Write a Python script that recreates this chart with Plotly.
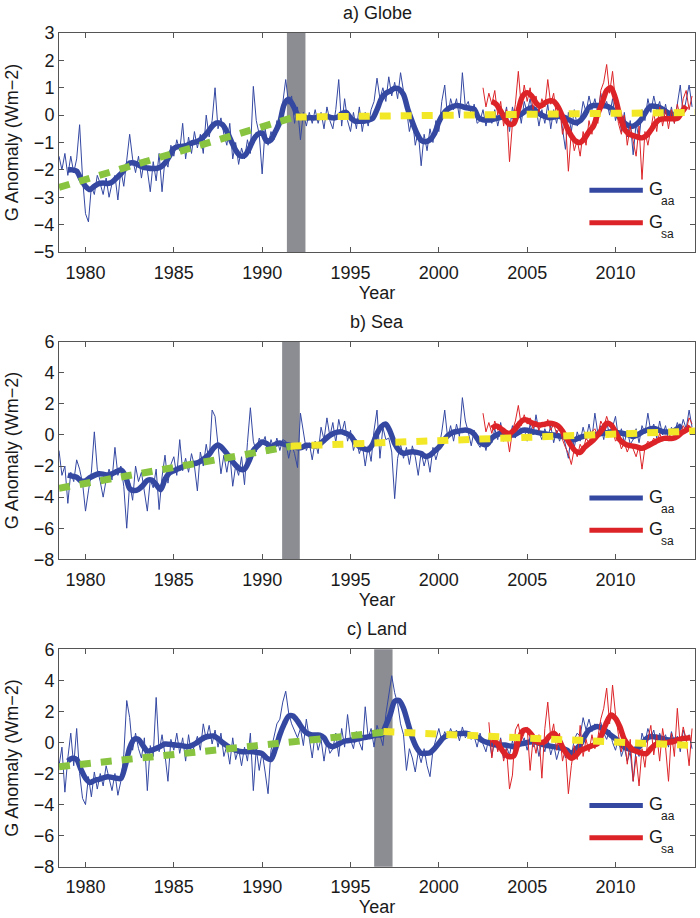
import plotly.graph_objects as go

# ---------------- data ----------------
MONTHLY_START = 1978.5      # bi-monthly samples of the thin G_aa lines
MONTHLY_STEP = 1.0 / 6.0
SMOOTH_START = 1979.0       # quarterly samples of the smoothed G_aa lines
SMOOTH_STEP = 0.25
SA_START_AB = 2002.5        # thin G_sa lines start
SA_START_C = 2002.8333
SA_SMOOTH_START = 2003.0

YEAR_TICKS = [1980, 1985, 1990, 1995, 2000, 2005, 2010]
YTICKS_GLOBE = [-5, -4, -3, -2, -1, 0, 1, 2, 3]
YTICKS_SEA_LAND = [-8, -6, -4, -2, 0, 2, 4, 6]

# a) Globe
GLOBE_AA = [
    -1.5, -2.0, -1.4,
    -2.2, -1.5, -2.1, -1.6, -0.35, -2.3,
    -3.6, -3.9, -2.6, -2.9, -2.2, -2.5,
    -2.9, -2.3, -3.0, -2.5, -2.2, -3.1,
    -2.0, -2.6, -1.7, -0.7, -1.6, -2.1,
    -1.5, -2.3, -1.6, -2.0, -2.8, -1.7,
    -2.4, -1.4, -2.8, -1.6, -1.9, -1.1,
    -1.5, -0.9, -1.3, -0.3, -1.6, -0.8,
    -1.4, -0.6, -1.2, -0.7, -1.4, 0.0,
    -0.8, -0.2, 1.0, -0.5, -0.1, -0.7,
    -1.1, -0.3, -1.6, -1.0, -1.8, -1.2,
    -1.6, -0.9, -1.4, 1.05, -0.2, -0.7,
    -2.15, -0.5, -1.1, -0.6, -0.9, -0.2,
    -0.4, 0.5, 1.3, 0.4, 0.7, -0.3,
    0.3, -0.9, 0.1, -0.4, 0.1, -0.3,
    0.2, -0.3, 0.1, -0.5, 0.3, -0.2,
    -0.5, 0.2, 1.3, -0.4, 0.6, -0.2,
    -0.6, 0.1, -0.5, 0.3, -0.6, 0.1,
    -0.4, 0.2, 0.5, 1.35, 0.6, 1.0,
    0.5, 1.4, 0.7, 1.2, 0.6, 1.55,
    0.9, 0.2, -0.6, -0.1, -1.1, -0.6,
    -1.85, -0.7, -1.3, -0.5, -1.0, -0.2,
    -0.6, 0.5, 1.1, -0.1, 0.6, 0.2,
    0.6, -0.1, 1.55, 0.3, 0.5, 0.0,
    0.4, -0.3, -0.2, 0.2, -0.4, 0.1,
    -0.3, 0.2, -0.4, 0.1, -0.2, 0.3,
    -0.6, 0.3, -0.2, 0.4, -0.3, 0.5,
    0.1, 0.6, 0.0, 0.3, -0.4, 0.2,
    -0.3, 0.4, -0.5, 0.2, -0.3, 0.3,
    -0.5, -1.25, 0.1, -0.6, 0.2, -0.4,
    -0.2, 0.5, 0.1, 0.7, 0.2, 0.6,
    0.1, 0.8, 0.3, 0.5, 0.0, 0.6,
    -0.2, 0.3, -0.6, 0.1, -0.8, -0.2,
    -1.45, -0.3, -0.9, 0.2, -0.2, 0.6,
    0.1, 0.7, 0.2, 0.5, -0.1, 0.4,
    -0.2, 0.3, -0.3, 0.5, 1.1, 0.0,
    0.6, 1.1, 0.3,
]
GLOBE_SA = [
    1.0, 0.3, 0.8,
    0.4, 0.9, 0.0, 0.5, -0.4, 0.2,
    -1.7, -0.3, 0.4, 1.6, 0.3, 1.1,
    0.5, 1.0, 0.2, 0.7, 0.1, 0.6,
    0.3, 1.3, 0.4, 0.8, -0.1, 0.3,
    -0.7, -0.2, -2.05, -0.6, -1.3, -0.9,
    -1.5, -0.6, -1.1, -0.2, -0.7, 0.1,
    -0.3, 0.9, 1.2, 1.85, 0.8, 1.6,
    0.5, -0.3, -0.7, 0.0, -1.1, -0.4,
    -0.9, -1.5, -0.4, -2.35, -0.6, -1.1,
    -0.5, 0.1, -0.6, 0.3, -0.4, 0.2,
    -0.5, 0.2, -0.3, 0.4, -0.1, 0.6,
    0.9, 0.2, 0.7,
]
GLOBE_AA_SMOOTH = [
    -2.0, -2.0, -2.05, -2.35,
    -2.6, -2.72, -2.6, -2.5,
    -2.48, -2.5, -2.45, -2.3,
    -2.15, -1.95, -1.75, -1.75,
    -1.82, -1.9, -1.93, -1.95,
    -1.95, -1.9, -1.75, -1.5,
    -1.22, -1.15, -1.14, -1.1,
    -1.02, -0.98, -0.9, -0.75,
    -0.55, -0.35, -0.28, -0.35,
    -0.6, -0.95, -1.28, -1.48,
    -1.48, -1.25, -0.9, -0.7,
    -0.65, -0.95, -0.9, -0.6,
    -0.25, 0.4, 0.58, 0.35,
    0.02, -0.08, -0.1, -0.1,
    -0.1, -0.08, -0.05, -0.06,
    -0.1, -0.08, 0.05, 0.1,
    -0.1, -0.22, -0.22, -0.22,
    -0.18, -0.12, 0.2, 0.6,
    0.8, 0.88, 0.98, 0.95,
    0.75, 0.2, -0.25, -0.65,
    -0.92, -0.97, -0.9, -0.68,
    -0.25, 0.05, 0.22, 0.3,
    0.35, 0.33, 0.28, 0.25,
    0.22, -0.1, -0.17, -0.18,
    -0.17, -0.12, -0.08, 0.0,
    0.02, -0.04, -0.02, 0.08,
    0.2, 0.27, 0.15, 0.03,
    -0.05, -0.1, -0.07, -0.04,
    -0.07, -0.12, -0.22, -0.28,
    -0.2, 0.0, 0.28, 0.35,
    0.35, 0.34, 0.33, 0.25,
    0.1, -0.1, -0.28, -0.38,
    -0.4, -0.3, -0.12, 0.15,
    0.33, 0.32, 0.28, 0.18,
    0.08, 0.02, 0.08, 0.15,
]
GLOBE_SA_SMOOTH = [
    0.5, 0.4, 0.15, -0.15,
    -0.33, -0.3, 0.2, 0.7,
    0.82, 0.7, 0.45, 0.32,
    0.45, 0.52, 0.5, 0.3,
    -0.05, -0.45, -0.75, -0.95,
    -1.0, -0.85, -0.6, -0.4,
    0.05, 0.45, 0.9, 1.0,
    0.6, -0.04, -0.5, -0.68,
    -0.75, -0.8, -0.83, -0.75,
    -0.55, -0.3, -0.16, -0.13,
    -0.13, -0.13, -0.12, 0.1,
    0.33,
]
GLOBE_TREND_PRE_X = [1978.5, 1991.9]
GLOBE_TREND_PRE_Y = [-2.64, -0.06]
GLOBE_TREND_POST_X = [1991.9, 2014.5]
GLOBE_TREND_POST_Y = [-0.07, 0.1]
GLOBE_BREAK = [1991.4, 1992.45]

# b) Sea
SEA_AA = [
    -1.0, -2.6, -2.0,
    -4.4, -2.4, -3.0, -1.6, -2.2, -3.1,
    -4.9, -3.6, -2.4, 0.2, -2.2, -3.0,
    -4.0, -2.9, -2.2, -2.9, -0.8, -2.6,
    -2.0, -3.3, -6.0, -3.1, -4.2, -2.0,
    -3.0, -2.4, -3.6, -4.9, -2.9, -3.4,
    -2.2, -4.8, -2.7, -1.3, -3.1, -1.9,
    -1.4, -2.6, -0.3, -2.3, -1.5, -2.4,
    -1.2, -2.0, -3.6, -1.1, -2.0, -0.6,
    -1.7, 1.6, 1.2, -0.7, -2.5, -1.3,
    -2.4, -1.2, -3.3, -2.0, -2.6, -1.4,
    -3.2, -0.5, 1.75, -0.4, -1.1, -0.2,
    -0.6, -0.1, -1.2, -0.3, -0.9, -0.2,
    -1.0, -0.3, -0.4, -1.5, -0.6, -1.2,
    -2.1, 1.4, 0.3, -1.0, -0.5, -1.6,
    -0.4, -1.2, 0.5, -0.3, 1.1, -0.1,
    0.8, -0.5, 1.0, 0.1, 0.9, -0.4,
    0.3, -1.0, -0.3, -1.2, -0.6, -2.0,
    -0.7, -1.7, 0.3, 1.6, -1.5, 0.5,
    -0.3, -0.2, -1.1, -4.1, -1.5, -0.6,
    -1.5, -0.8, -1.9, -0.7, -1.4, -2.6,
    -1.1, -2.0, -1.3, -2.4, -0.8, -1.6,
    -0.9, 0.2, 1.6, -0.2, 0.6, -0.4,
    0.7, -0.1, 2.4, 0.9, 0.2, -0.7,
    0.3, -0.5, -0.8, -0.2, -1.0, -0.1,
    -0.5, 0.4, -0.3, 0.8, -0.4, 0.3,
    -0.3, 0.6, -0.2, 0.9, 0.1, 0.4,
    -0.4, 0.7, 0.0, 1.3, 0.2, -0.3,
    0.4, -0.2, 0.6, -0.5, 0.3, -0.4,
    0.2, -0.6, -1.5, 0.1, -0.8, 0.2,
    -0.4, 0.5, -0.3, 0.7, -0.2, 1.4,
    0.1, 0.6, -0.3, 0.8, 0.0, 0.5,
    1.2, -0.2, 0.4, -0.5, 0.3, -0.6,
    -0.3, 0.4, -0.5, 0.6, 0.1, 1.4,
    0.2, 0.7, -0.2, 0.9, 0.0, 0.6,
    -0.3, 0.5, 0.1, 0.8, 0.2, 1.0,
    0.4, 1.6, 0.5,
]
SEA_SA = [
    1.4, 0.2, 0.8,
    0.1, 0.9, 0.3, 0.6, -0.4, 0.2,
    -1.1, 0.3, 0.9, 1.9, 0.6, 1.3,
    0.7, 1.1, 0.4, 0.9, 0.3, 0.8,
    0.5, 1.0, 0.3, 0.7, 0.1, 0.5,
    -0.3, -0.8, -1.2, -1.9, -0.9, -1.4,
    -0.6, -1.0, -0.2, -0.5, 0.2, 0.4,
    -0.1, 0.9, 0.5, 1.2, 0.6, 0.3,
    -0.4, -0.2, -0.9, -0.5, -1.1, -0.6,
    -0.9, -1.4, -0.7, -2.2, -0.8, -0.4,
    -0.6, -0.2, -0.5, 0.1, -0.4, -0.1,
    -0.3, 0.2, -0.2, 0.4, 0.0, 0.6,
    0.3, 1.1, 0.7,
]
SEA_AA_SMOOTH = [
    -2.58, -2.65, -2.72, -2.95,
    -2.95, -2.75, -2.6, -2.5,
    -2.52, -2.58, -2.5, -2.36,
    -2.25, -2.6, -3.45, -3.58,
    -3.5, -3.25, -2.92, -2.9,
    -3.2, -3.52, -2.85, -2.45,
    -2.3, -2.18, -2.05, -1.93,
    -1.88, -1.82, -1.7, -1.5,
    -1.25, -0.85, -0.65, -0.85,
    -1.2, -1.6, -1.95, -2.2,
    -2.2, -1.7, -1.0, -0.7,
    -0.45, -0.55, -0.75, -0.6,
    -0.52, -0.6, -0.65, -0.72,
    -0.82, -0.8, -0.66, -0.68,
    -0.72, -0.6, -0.35, -0.1,
    0.08, 0.18, 0.2, 0.1,
    -0.05, -0.45, -0.75, -0.88,
    -0.95, -0.6, 0.1, 0.55,
    0.7, 0.2, -0.55, -1.0,
    -1.18, -1.12, -1.08, -1.12,
    -1.2, -1.38, -1.3, -1.05,
    -0.8, -0.4, -0.05, 0.15,
    0.22, 0.28, 0.32, 0.25,
    0.05, -0.35, -0.6, -0.6,
    -0.2, 0.0, 0.1, 0.08,
    0.02, 0.0, 0.15, 0.3,
    0.3, 0.22, 0.18, 0.12,
    0.08, 0.02, 0.0, -0.05,
    -0.1, -0.2, -0.32, -0.28,
    -0.15, -0.08, -0.02, 0.0,
    0.05, 0.1, 0.15, 0.2,
    0.18, 0.12, 0.08, 0.0,
    -0.11, 0.0, 0.18, 0.3,
    0.4, 0.4, 0.28, 0.2,
    0.2, 0.22, 0.4, 0.62,
]
SEA_SA_SMOOTH = [
    0.43, 0.58, 0.42, 0.2,
    0.1, 0.3, 0.65, 0.95,
    0.95, 0.78, 0.68, 0.64,
    0.7, 0.75, 0.72, 0.58,
    0.25, -0.25, -0.7, -1.05,
    -1.12, -0.8, -0.55, -0.33,
    0.0, 0.35, 0.75, 0.65,
    0.2, -0.33, -0.55, -0.67,
    -0.72, -0.78, -0.86, -0.75,
    -0.6, -0.45, -0.3, -0.22,
    -0.22, -0.22, -0.1, 0.15,
    0.3, 0.55,
]
SEA_TREND_PRE_X = [1978.5, 1991.6]
SEA_TREND_PRE_Y = [-3.43, -0.73]
SEA_TREND_POST_X = [1991.6, 2014.5]
SEA_TREND_POST_Y = [-0.72, 0.25]
SEA_BREAK = [1991.13, 1992.13]

# c) Land
LAND_AA = [
    -1.5, -0.3, -3.2,
    -1.0, 0.6, -1.5, 0.9, -2.0, -3.6,
    -4.0, -2.2, -3.5, -1.9, -3.0, -2.0,
    -2.8, -1.5, -2.4, -3.1, -2.0, -3.4,
    -2.5, -0.8, 2.7, 1.6, -0.5, 0.6,
    -0.4, -1.0, 0.3, -3.1, -0.2, -0.9,
    2.9, -0.6, 0.5, -0.8, -2.5, 0.2,
    -0.5, 0.6, -0.7, 0.3, -1.2, 0.5,
    -0.8, -0.2, 0.4, -0.5, 1.2, 0.2,
    1.1, -0.1, 0.8, -0.3, 0.6, -0.9,
    -0.2, -1.4, 0.3, -1.1, -0.4, -1.5,
    -0.3, -1.2, 0.6, -3.1, -0.4, -1.8,
    -0.6, -1.9, -3.3, -0.5, 0.4, 1.2,
    1.5, 2.6, 3.3, 1.9, 1.2, 0.8,
    0.3, 0.9, -0.2, 1.5, 0.2, -1.0,
    0.6, -0.5, 0.2, -1.2, 0.1, -0.7,
    -0.4, 0.6, -0.9, 0.9, -0.3, 1.8,
    0.2, -0.4, 0.7, 0.0, -0.5, 2.3,
    0.3, 0.9, -0.3, 1.1, 0.5, -0.2,
    1.8, 3.0, 4.3, 3.2, 2.5, 1.2,
    0.5, -1.8, -0.4, -1.0, -1.9, -0.6,
    -1.3, -0.4, -1.5, -2.2, -0.5, 0.2,
    0.9, 0.1, 0.7, 0.3, 0.9, 0.4,
    0.8, 0.1, 1.0, 0.3, 0.6, 0.2,
    0.4, -0.3, 0.6, -0.1, -0.6, 0.3,
    -0.9, 0.2, -0.5, 0.3, -1.0, -0.3,
    -0.8, 0.1, -0.6, 0.5, -0.2, 0.3,
    -0.5, 0.4, -0.3, 0.2, -0.9, 0.1,
    -0.6, 0.3, -0.8, -0.1, -1.1, -0.4,
    -0.2, -1.0, -0.5, -0.9, 0.2, 0.6,
    0.4, 1.6, 0.8, 1.5, 0.7, 1.2,
    0.9, 1.3, 0.6, 0.2, 0.8, 0.0,
    -0.5, 0.3, -0.9, -0.3, -1.2, -0.6,
    -2.5, -0.4, -0.9, 0.6, 0.0, 0.9,
    0.3, 0.8, -0.2, 0.6, 0.1, 0.5,
    -0.3, 0.7, 0.0, 0.4, -0.6, 0.8,
    0.2, 0.5, -0.4,
]
LAND_SA = [
    1.3,
    -1.0, 0.5, -0.6, 0.2, -1.2, -0.4,
    -3.0, -2.1, 0.8, 1.2, 0.1, 0.6,
    1.0, -1.8, 0.2, -0.7, 0.5, -2.3,
    0.9, 2.6, 0.3, 1.2, -0.5, 0.6,
    -1.2, -0.4, -3.3, -1.5, -0.2, -1.1,
    1.1, -0.9, 0.2, -0.6, 0.5, -0.4,
    0.3, 1.5, 2.2, 3.5, 1.2, 3.7,
    1.8, 0.5, -0.6, 0.3, -1.4, 0.2,
    -2.5, -0.9, -2.8, -0.4, -1.6, 0.2,
    1.1, -0.8, 0.5, -1.2, 0.9, -0.3,
    -2.5, 0.6, -0.9, 2.2, -0.2, 1.0,
    0.2, -1.5, 0.9,
]
LAND_AA_SMOOTH = [
    -1.2, -1.02, -1.1, -1.75,
    -2.3, -2.58, -2.45, -2.37,
    -2.28, -2.2, -2.25, -2.3,
    -2.32, -1.5, -0.35, 0.2,
    0.2, -0.2, -0.55, -0.5,
    -0.38, -0.25, -0.1, -0.12,
    -0.15, -0.18, -0.22, -0.27,
    -0.2, -0.05, 0.15, 0.33,
    0.4, 0.42, 0.25, 0.0,
    -0.2, -0.38, -0.5, -0.58,
    -0.6, -0.58, -0.6, -0.65,
    -0.72, -1.0, -1.1, -0.4,
    0.5, 1.2, 1.7, 1.7,
    1.38, 0.95, 0.62, 0.5,
    0.48, 0.48, 0.3, -0.16,
    -0.27, -0.15, 0.02, 0.1,
    0.14, 0.18, 0.25, 0.32,
    0.36, 0.42, 0.48, 0.5,
    1.1, 1.8, 2.65, 2.7,
    2.2, 1.25, 0.3, -0.35,
    -0.7, -0.7, -0.66, -0.4,
    -0.05, 0.3, 0.45, 0.53,
    0.56, 0.58, 0.59, 0.52,
    0.43, 0.3, 0.1, 0.0,
    -0.1, -0.16, -0.16, -0.17,
    -0.22, -0.27, -0.15, -0.07,
    0.0, 0.05, 0.03, -0.08,
    -0.16, -0.22, -0.27, -0.32,
    -0.38, -0.5, -0.7, -0.45,
    -0.15, 0.38, 0.8, 0.95,
    1.02, 0.9, 0.7, 0.45,
    0.25, -0.05, -0.3, -0.42,
    -0.48, -0.35, -0.1, 0.25,
    0.38, 0.35, 0.3, 0.22,
    0.16, 0.15, 0.16, 0.15,
]
LAND_SA_SMOOTH = [
    0.2, 0.0, -0.35, -0.75,
    -0.92, -0.85, 0.1, 0.75,
    0.8, 0.5, 0.08, 0.0,
    0.05, 0.4, 0.6, 0.3,
    -0.3, -0.75, -1.02, -0.85,
    -0.52, -0.4, -0.28, -0.18,
    -0.05, 0.6, 1.3, 1.77,
    1.55, 1.0, 0.2, -0.2,
    -0.48, -0.6, -0.7, -0.72,
    -0.4, -0.15, -0.08, -0.03,
    0.02, 0.05, 0.15, 0.25,
    0.27, 0.3,
]
LAND_TREND_PRE_X = [1978.5, 1996.86]
LAND_TREND_PRE_Y = [-1.56, 0.66]
LAND_TREND_POST_X = [1996.86, 2014.5]
LAND_TREND_POST_Y = [0.7, -0.2]
LAND_BREAK = [1996.34, 1997.38]

PANEL_TITLES = ["a) Globe", "b) Sea", "c) Land"]
LEGEND_MAIN = ["G", "G"]
LEGEND_SUB = ["aa", "sa"]

# ---------------- styling ----------------
BLUE = "rgb(52,72,162)"
RED = "rgb(220,36,40)"
GREEN = "rgb(137,196,64)"
YELLOW = "rgb(243,232,40)"
GREY = "rgb(140,141,146)"
AXIS = "#555555"
TEXT = "#1a1a1a"
FONT = "Liberation Sans, Arial, sans-serif"

W, H = 700, 918


def px_x(p):
    return p / W


def px_y(p):
    return 1 - p / H


X_DOMAIN = [px_x(59), px_x(695)]
PANEL_PX = [(33, 252), (341.7, 559.3), (649.3, 866.7)]  # top, bottom in page px
Y_RANGES = [[-5, 3], [-8, 6], [-8, 6]]
Y_TICKS = [YTICKS_GLOBE, YTICKS_SEA_LAND, YTICKS_SEA_LAND]


def xs(start, step, n):
    return [start + i * step for i in range(n)]


panels = [
    (GLOBE_AA, GLOBE_SA, GLOBE_AA_SMOOTH, GLOBE_SA_SMOOTH,
     GLOBE_TREND_PRE_X, GLOBE_TREND_PRE_Y, GLOBE_TREND_POST_X, GLOBE_TREND_POST_Y,
     GLOBE_BREAK, SA_START_AB),
    (SEA_AA, SEA_SA, SEA_AA_SMOOTH, SEA_SA_SMOOTH,
     SEA_TREND_PRE_X, SEA_TREND_PRE_Y, SEA_TREND_POST_X, SEA_TREND_POST_Y,
     SEA_BREAK, SA_START_AB),
    (LAND_AA, LAND_SA, LAND_AA_SMOOTH, LAND_SA_SMOOTH,
     LAND_TREND_PRE_X, LAND_TREND_PRE_Y, LAND_TREND_POST_X, LAND_TREND_POST_Y,
     LAND_BREAK, SA_START_C),
]

fig = go.Figure()
layout = dict(
    width=W, height=H,
    margin=dict(l=0, r=0, t=0, b=0, autoexpand=False),
    paper_bgcolor="white", plot_bgcolor="white",
    showlegend=False,
    font=dict(family=FONT, size=18, color=TEXT),
    shapes=[], annotations=[],
)

for k, (aa, sa, aa_s, sa_s, tpx, tpy, tqx, tqy, brk, sa_start) in enumerate(panels):
    sfx = "" if k == 0 else str(k + 1)
    xa, ya = "x" + sfx, "y" + sfx
    top_px, bot_px = PANEL_PX[k]
    y_dom = [px_y(bot_px), px_y(top_px)]

    fig.add_trace(go.Scatter(x=xs(MONTHLY_START, MONTHLY_STEP, len(aa)), y=aa, mode="lines",
                             line=dict(color=BLUE, width=1), xaxis=xa, yaxis=ya, name="G_aa monthly"))
    fig.add_trace(go.Scatter(x=xs(SMOOTH_START, SMOOTH_STEP, len(aa_s)), y=aa_s, mode="lines",
                             line=dict(color=BLUE, width=5.5, shape="spline", smoothing=0.8),
                             xaxis=xa, yaxis=ya, name="G_aa"))
    fig.add_trace(go.Scatter(x=xs(sa_start, MONTHLY_STEP, len(sa)), y=sa, mode="lines",
                             line=dict(color=RED, width=1), xaxis=xa, yaxis=ya, name="G_sa monthly"))
    fig.add_trace(go.Scatter(x=xs(SA_SMOOTH_START, SMOOTH_STEP, len(sa_s)), y=sa_s, mode="lines",
                             line=dict(color=RED, width=5.5, shape="spline", smoothing=0.8),
                             xaxis=xa, yaxis=ya, name="G_sa"))
    fig.add_trace(go.Scatter(x=tpx, y=tpy, mode="lines",
                             line=dict(color=GREEN, width=7, dash="11px,10px"),
                             xaxis=xa, yaxis=ya, name="trend before"))
    fig.add_trace(go.Scatter(x=tqx, y=tqy, mode="lines",
                             line=dict(color=YELLOW, width=7, dash="11px,10px"),
                             xaxis=xa, yaxis=ya, name="trend after"))

    layout["xaxis" + sfx] = dict(
        domain=X_DOMAIN, anchor=ya, range=[1978.5, 2014.5], automargin=False,
        tickvals=YEAR_TICKS, ticks="inside", ticklen=5, tickcolor=AXIS,
        showline=True, linecolor=AXIS, linewidth=1, mirror="ticks",
        showgrid=False, zeroline=False, ticklabelstandoff=4,
        title=dict(text="Year", standoff=4, font=dict(size=18, family=FONT, color=TEXT)),
        tickfont=dict(size=18, family=FONT, color=TEXT),
    )
    layout["yaxis" + sfx] = dict(
        domain=y_dom, anchor=xa, range=Y_RANGES[k], automargin=False,
        tickvals=Y_TICKS[k], ticktext=[str(v).replace("-", "\u2212") for v in Y_TICKS[k]],
        ticks="inside", ticklen=5, tickcolor=AXIS,
        showline=True, linecolor=AXIS, linewidth=1, mirror="ticks",
        showgrid=False, zeroline=False,
        title=dict(text="G Anomaly (Wm\u22122)", standoff=10, font=dict(size=18, family=FONT, color=TEXT)),
        tickfont=dict(size=18, family=FONT, color=TEXT),
    )

    # break-point bar
    layout["shapes"].append(dict(type="rect", xref=xa, yref=ya + " domain",
                                 x0=brk[0], x1=brk[1], y0=0, y1=1,
                                 fillcolor=GREY, line=dict(width=0), layer="below"))
    # panel title
    layout["annotations"].append(dict(text=PANEL_TITLES[k], xref="paper", yref="paper",
                                      x=px_x(377), y=px_y(top_px - 20),
                                      xanchor="center", yanchor="middle", showarrow=False,
                                      font=dict(size=18, family=FONT, color=TEXT)))
    # legend swatches + labels
    for j, col in enumerate([BLUE, RED]):
        yy = [0.282, 0.133][j]
        layout["shapes"].append(dict(type="line", xref=xa + " domain", yref=ya + " domain",
                                     x0=0.834, x1=0.918, y0=yy, y1=yy,
                                     line=dict(color=col, width=5)))
        layout["annotations"].append(dict(text=LEGEND_MAIN[j], xref=xa + " domain", yref=ya + " domain",
                                          x=0.924, y=yy, xanchor="left", yanchor="middle",
                                          yshift=1, showarrow=False,
                                          font=dict(size=18, family=FONT, color=TEXT)))
        layout["annotations"].append(dict(text=LEGEND_SUB[j], xref=xa + " domain", yref=ya + " domain",
                                          x=0.944, y=yy, xanchor="left", yanchor="middle",
                                          yshift=-11, showarrow=False,
                                          font=dict(size=12, family=FONT, color=TEXT)))

fig.update_layout(**layout)
# drop the browser's default 8px page margin so the 700x918 figure fills the window exactly
fig.write_html("out.html", config={"displayModeBar": False},
               post_script="document.body.style.margin='0px';")
